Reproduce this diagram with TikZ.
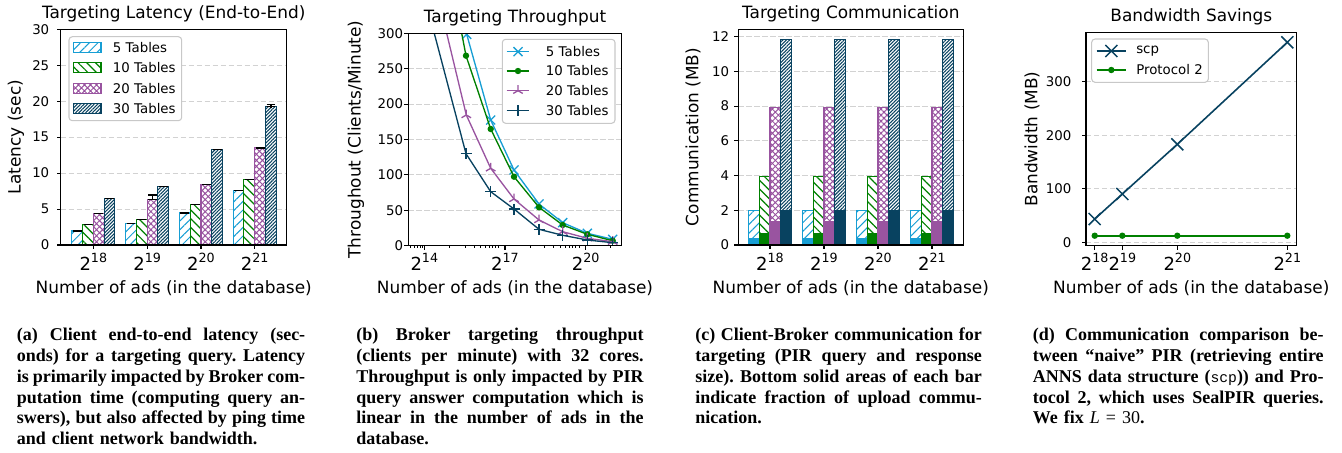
\documentclass[tikz,border=0pt]{standalone}
\usepackage{fontspec}
\setmainfont{DejaVu Sans}
\newfontfamily\capfont{Liberation Serif}
\newfontfamily\capmono{Liberation Mono}
\usetikzlibrary{patterns.meta}
\definecolor{cfive}{RGB}{23,158,212}
\definecolor{cten}{RGB}{0,128,0}
\definecolor{ctwenty}{RGB}{153,84,160}
\definecolor{cthirty}{RGB}{8,66,96}
\definecolor{gridc}{RGB}{210,210,210}
\definecolor{legc}{RGB}{200,200,200}
\newcommand{\pw}[1]{{\fontsize{13.5}{15}\selectfont 2\raisebox{6.3pt}{\fontsize{9.5}{11}\selectfont #1}}}
\newcommand{\jl}[2]{\leavevmode\hbox to #1{\spaceskip=0.25em plus 2em minus 0.06em\xspaceskip=\spaceskip #2}}
\tikzset{
  spine/.style={line width=0.9pt, black},
  gridline/.style={draw=gridc, line width=0.8pt, dash pattern=on 4pt off 2pt},
  tickmark/.style={line width=0.8pt, black},
  errcap/.style={line width=0.9pt, black},
  ytl/.style={font=\fontsize{10}{12}\selectfont, inner sep=0pt, anchor=east},
  xtl/.style={inner sep=0pt, anchor=base},
  ttl/.style={font=\fontsize{12.7}{15}\selectfont, inner sep=0pt, anchor=base},
  ylab/.style={font=\fontsize{12.7}{15}\selectfont, inner sep=0pt, anchor=base, rotate=90},
  legtxt/.style={font=\fontsize{10}{12}\selectfont, inner sep=0pt, anchor=west},
  legbox/.style={draw=legc, fill=white, rounded corners=2.5pt, line width=0.8pt},
  hfive/.style={preaction={fill=white}, pattern={Lines[angle=45,distance=4.6pt,line width=0.75pt]}, pattern color=cfive, draw=cfive, line width=0.8pt},
  hten/.style={preaction={fill=white}, pattern={Lines[angle=-45,distance=4.6pt,line width=0.9pt]}, pattern color=cten, draw=cten, line width=0.8pt},
  htwenty/.style={preaction={fill=white}, pattern={Hatch[angle=45,distance=3.2pt,line width=0.75pt]}, pattern color=ctwenty, draw=ctwenty, line width=0.8pt},
  hthirty/.style={preaction={fill=white}, pattern={Lines[angle=45,distance=1.8pt,line width=0.8pt]}, pattern color=cthirty, draw=cthirty, line width=0.8pt},
  captext/.style={inner sep=0pt, anchor=base west, text width=#1, align=left, font=\capfont\bfseries\fontsize{13.5}{15.6}\selectfont\frenchspacing},
  serie/.style={line width=1pt},
  pics/mkx/.style={code={\draw (-4.5,-4.5) -- (4.5,4.5) (-4.5,4.5) -- (4.5,-4.5);}},
  pics/mkbigx/.style={code={\draw (-6,-6) -- (6,6) (-6,6) -- (6,-6);}},
  pics/mkplus/.style={code={\draw (-5.5,0) -- (5.5,0) (0,-5.5) -- (0,5.5);}},
  pics/mktri/.style={code={\draw (0,0) -- (0,-5.5) (0,0) -- (-4.76,2.75) (0,0) -- (4.76,2.75);}},
  pics/mkdot/.style={code={\fill (0,0) circle[radius=2.4pt];}},
}
\begin{document}
\begin{tikzpicture}[x=0.75pt,y=-0.75pt]
\useasboundingbox (0,0) rectangle (1342,453);

%%%%%%%%%%%%%%%% Panel (a)
\foreach \val in {5,10,...,25} \draw[gridline] (60.7,{245-7.19*\val}) -- (286.7,{245-7.19*\val});
\foreach \bl/\val/\sty in {71.7/1.95/hfive, 82.5/2.85/hten, 93.3/4.35/htwenty, 104.1/6.5/hthirty,
  125.5/2.95/hfive, 136.3/3.5/hten, 147.1/6.3/htwenty, 157.9/8.15/hthirty,
  179.4/4.45/hfive, 190.2/5.65/hten, 201.0/8.45/htwenty, 211.8/13.25/hthirty,
  233.1/7.6/hfive, 243.9/9.15/hten, 254.7/13.5/htwenty, 265.5/19.3/hthirty}
{
  \path[\sty] (\bl,245) rectangle ({\bl+10.8},{245-7.19*\val});
  \draw[errcap] ({\bl+1},{245-7.19*\val}) -- ({\bl+9.8},{245-7.19*\val});
}
\draw[errcap] (152.5,{245-7.19*6.3}) -- (152.5,{245-7.19*6.95}) (148.1,{245-7.19*6.95}) -- (156.9,{245-7.19*6.95});
\draw[errcap] (270.9,{245-7.19*19.1}) -- (270.9,{245-7.19*19.55}) (266.5,{245-7.19*19.55}) -- (275.3,{245-7.19*19.55});
\draw[spine] (60.7,29.3) rectangle (286.7,245);
\foreach \val in {0,5,...,30} {
  \draw[tickmark] (60.7,{245-7.19*\val}) -- (56.7,{245-7.19*\val});
  \node[ytl] (ya\val) at (49.5,{245-7.19*\val}) {\val};
}
\foreach \x/\e in {93.3/18,147.1/19,201/20,254.7/21} {
  \draw[tickmark] (\x,245) -- (\x,249);
  \node[xtl] (xa\e) at (\x,270.7) {\pw{\e}};
}
\node[ttl] (ta) at (173.7,18.3) {Targeting Latency (End-to-End)};
\node[ttl] (xla) at (173.7,293.3) {Number of ads (in the database)};
\node[ylab] (yla) at (20.7,137) {Latency (sec)};
\draw[legbox] (69,36.7) rectangle (181.7,120.7);
\path[hfive] (73.3,42.7) rectangle (101,52.7);
\path[hten] (73.3,62.7) rectangle (101,72.7);
\path[htwenty] (73.3,83.3) rectangle (101,93.3);
\path[hthirty] (73.3,103.3) rectangle (101,113.3);
\node[legtxt] (la1) at (112.7,47.7) {5 Tables};
\node[legtxt] (la2) at (112.7,67.7) {10 Tables};
\node[legtxt] (la3) at (112.7,88.3) {20 Tables};
\node[legtxt] (la4) at (112.7,108.3) {30 Tables};

%%%%%%%%%%%%%%%% Panel (b)
\foreach \val in {50,100,...,250} \draw[gridline] (408.3,{245.7-0.708*\val}) -- (621.7,{245.7-0.708*\val});
\begin{scope}
\clip (408.3,33.3) rectangle (621.7,245.7);
\draw[serie, cfive] (460,0) -- (466.7,34.3) -- (490.7,120) -- (514,170) -- (539,204) -- (562.7,222.7) -- (587.3,233.3) -- (612.7,239.3);
\foreach \x/\y in {466.7/34.3, 490.7/120, 514/170, 539/204, 562.7/222.7, 587.3/233.3, 612.7/239.3}
  \pic[cfive, line width=1pt] at (\x,\y) {mkx};
\draw[serie, cten] (455.3,0) -- (466,55.7) -- (490.7,129) -- (514,176.7) -- (539,207.3) -- (562.7,225) -- (587.3,234.3) -- (612.7,240.7);
\foreach \x/\y in {466/55.7, 490.7/129, 514/176.7, 539/207.3, 562.7/225, 587.3/234.3, 612.7/240.7}
  \pic[cten] at (\x,\y) {mkdot};
\draw[serie, ctwenty] (438.7,0) -- (466.3,115) -- (490.7,168.3) -- (514,199) -- (539,220) -- (562.7,231.7) -- (587.3,238.3) -- (612.7,241.7);
\foreach \x/\y in {466.3/115, 490.7/168.3, 514/199, 539/220, 562.7/231.7, 587.3/238.3, 612.7/241.7}
  \pic[ctwenty, line width=1pt] at (\x,\y) {mktri};
\draw[serie, cthirty] (425.5,0) -- (466,153.7) -- (490.7,191.7) -- (514,209) -- (539,229.3) -- (562.7,235.3) -- (587.3,240) -- (612.7,242.7);
\foreach \x/\y in {466/153.7, 490.7/191.7, 514/209, 539/229.3, 562.7/235.3, 587.3/240, 612.7/242.7}
  \pic[cthirty, line width=1pt] at (\x,\y) {mkplus};
\end{scope}
\draw[spine] (408.3,33.3) rectangle (621.7,245.7);
\foreach \val in {0,50,...,300} {
  \draw[tickmark] (408.3,{245.7-0.708*\val}) -- (404.3,{245.7-0.708*\val});
  \node[ytl] (yb\val) at (403.3,{245.7-0.708*\val}) {\val};
}
\foreach \x/\e in {424.3/14,505/17,585.7/20} {
  \draw[tickmark] (\x,245.7) -- (\x,249.7);
  \node[xtl] (xb\e) at (\x,270.7) {\pw{\e}};
}
\foreach \x in {410,414,417.3,420,422.3,449.3,465,474,480.7,485.3,489.3,492.7,495.7,498.7,530,544,553.3,560,565,569,572.3,575.7,579,610.7}
  \draw[tickmark, line width=0.6pt] (\x,245.7) -- (\x,248);
\node[ttl] (tb) at (515,23) {Targeting Throughput};
\node[ttl] (xlb) at (515,293.3) {Number of ads (in the database)};
\node[ylab] (ylb) at (360.7,139.5) {Throughout (Clients/Minute)};
\draw[legbox] (502.3,39.3) rectangle (615,123.3);
\draw[serie, cfive] (506.7,51.7) -- (529.3,51.7);
\pic[cfive, line width=1pt] at (518,51.7) {mkx};
\draw[serie, cten] (506.7,71) -- (529.3,71);
\pic[cten] at (518,71) {mkdot};
\draw[serie, ctwenty] (506.7,90.7) -- (529.3,90.7);
\pic[ctwenty, line width=1pt] at (518,90.7) {mktri};
\draw[serie, cthirty] (506.7,110.7) -- (529.3,110.7);
\pic[cthirty, line width=1pt] at (518,110.7) {mkplus};
\node[legtxt] (lb1) at (545.7,51.7) {5 Tables};
\node[legtxt] (lb2) at (545.7,71) {10 Tables};
\node[legtxt] (lb3) at (545.7,90.7) {20 Tables};
\node[legtxt] (lb4) at (545.7,110.7) {30 Tables};

%%%%%%%%%%%%%%%% Panel (c)
\foreach \val in {2,4,...,12} \draw[gridline] (738.3,{245-17.36*\val}) -- (963.3,{245-17.36*\val});
\foreach \g in {770,824,878,932} {
  \foreach \i/\tot/\up/\sty/\col in {0/2.0/0.37/hfive/cfive, 1/3.97/0.68/hten/cten, 2/7.92/1.35/htwenty/ctwenty, 3/11.84/2.0/hthirty/cthirty} {
    \pgfmathsetmacro\bl{\g-21.6+10.8*\i}
    \path[\sty] (\bl,245) rectangle ({\bl+10.8},{245-17.36*\tot});
    \path[fill=\col, draw=\col, line width=0.8pt] (\bl,245) rectangle ({\bl+10.8},{245-17.36*\up});
  }
}
\draw[spine] (738.3,29.3) rectangle (963.3,245);
\foreach \val in {0,2,...,12} {
  \draw[tickmark] (738.3,{245-17.36*\val}) -- (734.3,{245-17.36*\val});
  \node[ytl] (yc\val) at (729.3,{245-17.36*\val}) {\val};
}
\foreach \x/\e in {770/18,824/19,878/20,932/21} {
  \draw[tickmark] (\x,245) -- (\x,249);
  \node[xtl] (xc\e) at (\x,270.7) {\pw{\e}};
}
\node[ttl] (tc) at (850.8,18.3) {Targeting Communication};
\node[ttl] (xlc) at (850.8,293.3) {Number of ads (in the database)};
\node[ylab] (ylc) at (698.4,137) {Communication (MB)};

%%%%%%%%%%%%%%%% Panel (d)
\foreach \val in {0,100,200,300} \draw[gridline] (1086,{242.3-0.5357*\val}) -- (1296.7,{242.3-0.5357*\val});
\draw[serie, cthirty, line width=1.2pt] (1094.7,219) -- (1122.3,194) -- (1177.3,144.3) -- (1287.3,42.3);
\foreach \x/\y in {1094.7/219, 1122.3/194, 1177.3/144.3, 1287.3/42.3}
  \pic[cthirty, line width=1.1pt] at (\x,\y) {mkbigx};
\draw[serie, cten, line width=1.3pt] (1094.7,235.7) -- (1122.3,235.7) -- (1177.3,235.7) -- (1287.3,235.7);
\foreach \x in {1094.7,1122.3,1177.3,1287.3}
  \pic[cten] at (\x,235.7) {mkdot};
\draw[spine] (1086,32.3) rectangle (1296.7,245.7);
\foreach \val in {0,100,200,300} {
  \draw[tickmark] (1086,{242.3-0.5357*\val}) -- (1082,{242.3-0.5357*\val});
  \node[ytl] (yd\val) at (1071.7,{242.3-0.5357*\val}) {\val};
}
\foreach \x/\e in {1094.7/18,1122.3/19,1177.3/20,1287.3/21} {
  \draw[tickmark] (\x,245.7) -- (\x,249.7);
  \node[xtl] (xd\e) at (\x,270.7) {\pw{\e}};
}
\node[ttl] (td) at (1191.3,21.7) {Bandwidth Savings};
\node[ttl] (xld) at (1191.3,293.3) {Number of ads (in the database)};
\node[ylab] (yld) at (1037.4,139) {Bandwidth (MB)};
\draw[legbox] (1091.7,39) rectangle (1208.3,82.3);
\draw[serie, cthirty, line width=1.2pt] (1096.7,51) -- (1126,51);
\pic[cthirty, line width=1.1pt] at (1111.3,51) {mkbigx};
\draw[serie, cten, line width=1.3pt] (1096.7,70) -- (1126,70);
\pic[cten] at (1111.3,70) {mkdot};
\node[legtxt] (ld1) at (1136,51) {scp};
\node[legtxt] (ld2) at (1136,70) {Protocol 2};

%%%%%%%%%%%%%%%% Captions
\node[captext=216.2pt] (capa) at (16.7,340.7) {%
\jl{216.2pt}{(a) Client end-to-end latency (sec-}\\
\jl{216.2pt}{onds) for a targeting query. Latency}\\
\jl{216.2pt}{is primarily impacted by Broker com-}\\
\jl{216.2pt}{putation time (computing query an-}\\
\jl{216.2pt}{swers), but also affected by ping time}\\
and client network bandwidth.};
\node[captext=215.5pt] (capb) at (356,340.7) {%
\jl{215.5pt}{(b) Broker targeting throughput}\\
\jl{215.5pt}{(clients per minute) with 32 cores.}\\
\jl{215.5pt}{Throughput is only impacted by PIR}\\
\jl{215.5pt}{query answer computation which is}\\
\jl{215.5pt}{linear in the number of ads in the}\\
database.};
\node[captext=215pt] (capc) at (695,340.7) {%
\jl{215pt}{(c) Client-Broker communication for}\\
\jl{215pt}{targeting (PIR query and response}\\
\jl{215pt}{size). Bottom solid areas of each bar}\\
\jl{215pt}{indicate fraction of upload commu-}\\
nication.};
\node[captext=218pt] (capd) at (1032.7,340.7) {%
\jl{218pt}{(d) Communication comparison be-}\\
\jl{218pt}{tween “naive” PIR (retrieving entire}\\
\jl{218pt}{ANNS data structure ({\capmono\mdseries\fontsize{11}{13}\selectfont scp})) and Pro-}\\
\jl{218pt}{tocol 2, which uses SealPIR queries.}\\
We fix {\mdseries\itshape L\/} {\mdseries = 30}.};
\end{tikzpicture}
\end{document}
